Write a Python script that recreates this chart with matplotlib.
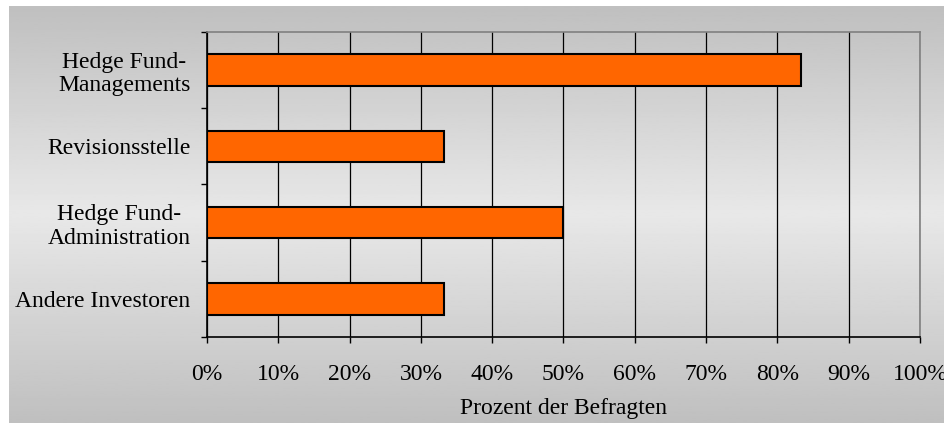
import numpy as np
import matplotlib.pyplot as plt
from matplotlib.ticker import FixedLocator, FuncFormatter

# Daten (von oben nach unten)
kategorien = ["Hedge Fund-\nManagements", "Revisionsstelle",
              "Hedge Fund-\nAdministration", "Andere Investoren"]
anteile = [83.3, 33.3, 50.0, 33.3]
x_ticks = [0, 10, 20, 30, 40, 50, 60, 70, 80, 90, 100]

plt.rcParams['font.family'] = ['Liberation Serif', 'DejaVu Serif']

fig = plt.figure(figsize=(9.45, 4.23), dpi=100)
fig.patch.set_facecolor('white')

# Hintergrund mit Verlauf (grau - hell - grau)
bg = fig.add_axes([9 / 945, 0, 1 - 9 / 945, 1 - 6 / 423], zorder=-10)
t = np.linspace(0, 1, 256)
grad = 0.75 + 0.16 * (1 - np.abs(2 * t - 1))
bg.imshow(grad[:, None], aspect='auto', cmap='gray', vmin=0, vmax=1,
          extent=[0, 1, 0, 1])
bg.set_axis_off()

ax = fig.add_axes([207 / 945, 86 / 423, (920 - 207) / 945, (337 - 32) / 423])
ax.patch.set_alpha(0)

y = np.arange(len(kategorien))[::-1]
ax.barh(y, anteile, height=0.41, color='#FF6600', edgecolor='black',
        linewidth=1.5, zorder=3)

ax.set_xlim(0, 100)
ax.set_ylim(-0.5, len(kategorien) - 0.5)
ax.set_xticks(x_ticks)
ax.xaxis.set_major_formatter(FuncFormatter(lambda v, p: f"{int(v)}%"))
ax.xaxis.grid(True, color='black', linewidth=0.9, zorder=1)

ax.set_yticks(y)
ax.set_yticklabels(kategorien, fontsize=17, linespacing=1.15,
                   multialignment='center')
ax.tick_params(axis='y', which='major', length=0, pad=12)
ax.yaxis.set_minor_locator(FixedLocator(np.arange(-0.5, len(kategorien), 1)))
ax.tick_params(axis='y', which='minor', length=4.5, width=1, direction='out')
ax.tick_params(axis='x', length=4.5, width=1, direction='out', labelsize=17, pad=15)

ax.set_xlabel("Prozent der Befragten", fontsize=17, labelpad=9)

ax.spines['left'].set_color('black')
ax.spines['bottom'].set_color('black')
ax.spines['top'].set_color('#808080')
ax.spines['right'].set_color('#808080')
for s in ax.spines.values():
    s.set_linewidth(1.2)

fig.savefig('out.png', dpi=100)
